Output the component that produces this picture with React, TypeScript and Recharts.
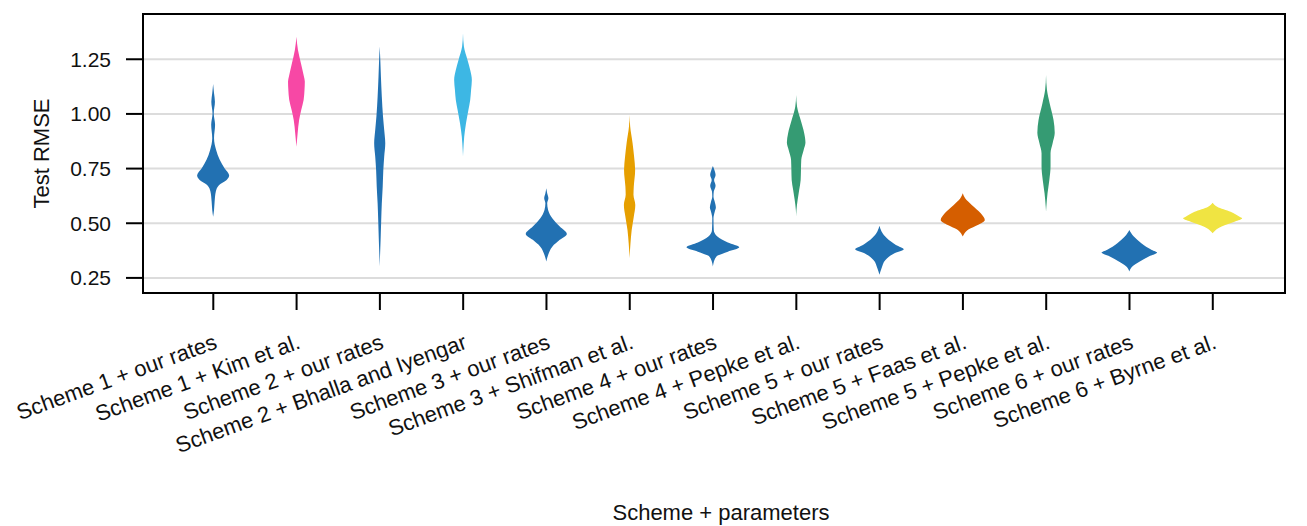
import { Bar, ComposedChart, CartesianGrid, Curve, Label, ReferenceArea, XAxis, YAxis } from "recharts";

// violin outlines: [Test RMSE, half width as share of one category slot]
const categories = [
  "Scheme 1 + our rates",
  "Scheme 1 + Kim et al.",
  "Scheme 2 + our rates",
  "Scheme 2 + Bhalla and Iyengar",
  "Scheme 3 + our rates",
  "Scheme 3 + Shifman et al.",
  "Scheme 4 + our rates",
  "Scheme 4 + Pepke et al.",
  "Scheme 5 + our rates",
  "Scheme 5 + Faas et al.",
  "Scheme 5 + Pepke et al.",
  "Scheme 6 + our rates",
  "Scheme 6 + Byrne et al.",
];

const s1Ours = [[1.137, 0], [1.094, 0.012], [1.056, 0.024], [1.003, 0.008], [0.95, 0.026], [0.889, 0.012], [0.835, 0.04], [0.79, 0.088], [0.751, 0.152], [0.718, 0.214], [0.698, 0.18], [0.675, 0.08], [0.645, 0.036], [0.599, 0.02], [0.561, 0.012], [0.53, 0]];
const s1Kim = [[1.353, 0], [1.293, 0.02], [1.232, 0.06], [1.171, 0.1], [1.148, 0.112], [1.11, 0.108], [1.064, 0.096], [1.018, 0.064], [0.972, 0.036], [0.911, 0.016], [0.85, 0]];
const s2Ours = [[1.308, 0], [1.247, 0.008], [1.171, 0.016], [1.079, 0.028], [0.988, 0.044], [0.927, 0.06], [0.866, 0.074], [0.805, 0.06], [0.744, 0.048], [0.668, 0.04], [0.591, 0.028], [0.515, 0.02], [0.424, 0.012], [0.348, 0.004], [0.302, 0]];
const s2Bhalla = [[1.369, 0], [1.308, 0.012], [1.247, 0.06], [1.201, 0.096], [1.155, 0.118], [1.11, 0.108], [1.064, 0.096], [1.018, 0.072], [0.957, 0.04], [0.896, 0.016], [0.835, 0.004], [0.805, 0]];
const s3Ours = [[0.66, 0], [0.637, 0.012], [0.614, 0.028], [0.591, 0.012], [0.561, 0.024], [0.523, 0.08], [0.485, 0.18], [0.451, 0.274], [0.424, 0.18], [0.393, 0.08], [0.355, 0.024], [0.325, 0]];
const s3Shifman = [[0.995, 0], [0.942, 0.008], [0.866, 0.04], [0.805, 0.06], [0.744, 0.074], [0.668, 0.056], [0.63, 0.052], [0.584, 0.076], [0.53, 0.056], [0.469, 0.028], [0.408, 0.012], [0.34, 0]];
const s4Ours = [[0.762, 0], [0.744, 0.02], [0.721, 0.036], [0.698, 0.016], [0.672, 0.036], [0.645, 0.012], [0.622, 0.008], [0.594, 0.028], [0.573, 0.04], [0.552, 0.024], [0.523, 0.008], [0.469, 0.012], [0.439, 0.06], [0.412, 0.2], [0.39, 0.352], [0.37, 0.2], [0.348, 0.048], [0.317, 0.008], [0.302, 0]];
const s4Pepke = [[1.087, 0], [1.033, 0.012], [0.972, 0.06], [0.911, 0.108], [0.869, 0.124], [0.835, 0.1], [0.79, 0.068], [0.744, 0.064], [0.698, 0.06], [0.652, 0.04], [0.607, 0.02], [0.561, 0.004], [0.53, 0]];
const s5Ours = [[0.488, 0], [0.462, 0.028], [0.431, 0.1], [0.401, 0.22], [0.381, 0.324], [0.363, 0.2], [0.332, 0.08], [0.294, 0.028], [0.264, 0]];
const s5Faas = [[0.637, 0], [0.614, 0.032], [0.584, 0.12], [0.546, 0.24], [0.515, 0.294], [0.492, 0.2], [0.472, 0.08], [0.454, 0.024], [0.439, 0]];
const s5Pepke = [[1.178, 0], [1.11, 0.012], [1.049, 0.048], [0.972, 0.1], [0.914, 0.116], [0.866, 0.088], [0.82, 0.06], [0.759, 0.06], [0.698, 0.044], [0.637, 0.02], [0.576, 0.004], [0.553, 0]];
const s6Ours = [[0.469, 0], [0.439, 0.06], [0.409, 0.16], [0.378, 0.3], [0.366, 0.37], [0.348, 0.26], [0.325, 0.14], [0.302, 0.04], [0.279, 0]];
const s6Byrne = [[0.594, 0], [0.576, 0.06], [0.553, 0.24], [0.53, 0.36], [0.523, 0.394], [0.508, 0.3], [0.485, 0.12], [0.466, 0.032], [0.454, 0]];

const profiles = [s1Ours, s1Kim, s2Ours, s2Bhalla, s3Ours, s3Shifman, s4Ours, s4Pepke, s5Ours, s5Faas, s5Pepke, s6Ours, s6Byrne];

const xTicks = categories.map((_, i) => i);
const xDomain = [-0.844, 12.867];
const yTicks = [0.25, 0.5, 0.75, 1.0, 1.25];
const yDomain = [0.181, 1.457];

const violinColors = ["#2271b2", "#f748a5", "#2271b2", "#3db7e4", "#2271b2", "#e69f00", "#2271b2", "#359b73", "#2271b2", "#d55e00", "#359b73", "#2271b2", "#f0e442"];

const data = categories.map((name, i) => {
  const vals = profiles[i].map((p) => p[0]);
  return { idx: i, name, range: [Math.min(...vals), Math.max(...vals)], profile: profiles[i] };
});

const FONT = "'Liberation Sans', Arial, sans-serif";
const SLOT = 83.3;

function Violin(props: any) {
  const { x, y, width, height, index } = props;
  const d = data[index];
  const [lo, hi] = d.range;
  const cx = x + width / 2;
  const toY = (v: number) => y + ((hi - v) / (hi - lo)) * height;
  const right = d.profile.map(([v, w]) => ({ x: cx + w * width, y: toY(v) }));
  const left = d.profile.map(([v, w]) => ({ x: cx - w * width, y: toY(v) }));
  return <Curve type="monotone" layout="vertical" points={right} baseLine={left} fill={violinColors[index]} stroke="none" />;
}

function XTick({ x, y, payload }: any) {
  const ax = x + 5;
  const ay = y + 38;
  return (
    <text x={ax} y={ay} transform={`rotate(-20, ${ax}, ${ay})`} textAnchor="end" fontSize={22} fontFamily={FONT} fill="#111">
      {categories[payload.value]}
    </text>
  );
}

export default function App() {
  return (
    <div style={{ position: "absolute", left: 0, top: 0, background: "#fff" }}>
      <ComposedChart width={1307} height={526} data={data} margin={{ top: 14, right: 22, bottom: 0, left: 0 }}>
        <CartesianGrid vertical={false} stroke="#dcdcdc" strokeWidth={2} />
        <XAxis
          dataKey="idx"
          type="number"
          domain={xDomain}
          allowDataOverflow
          ticks={xTicks}
          interval={0}
          height={233}
          tick={<XTick />}
          tickSize={17}
          tickMargin={0}
          axisLine={{ stroke: "#000", strokeWidth: 2 }}
          tickLine={{ stroke: "#000", strokeWidth: 2 }}
        >
          <Label
            content={({ viewBox }: any) => (
              <text x={viewBox.x + viewBox.width / 2 + 7} y={520} textAnchor="middle" fontSize={22} fontFamily={FONT} fill="#111">
                Scheme + parameters
              </text>
            )}
          />
        </XAxis>
        <YAxis
          type="number"
          domain={yDomain}
          allowDataOverflow
          ticks={yTicks}
          width={143}
          tickFormatter={(v: number) => v.toFixed(2)}
          tick={{ fontSize: 21, fontFamily: FONT, fill: "#111" }}
          tickSize={17}
          tickMargin={15}
          axisLine={{ stroke: "#000", strokeWidth: 2 }}
          tickLine={{ stroke: "#000", strokeWidth: 2 }}
        >
          <Label
            content={({ viewBox }: any) => {
              const lx = viewBox.x + 41.7;
              const ly = viewBox.y + viewBox.height / 2;
              return (
                <text x={lx} y={ly} transform={`rotate(-90, ${lx}, ${ly})`} textAnchor="middle" dy="0.35em" fontSize={22} fontFamily={FONT} fill="#111">
                  Test RMSE
                </text>
              );
            }}
          />
        </YAxis>
        <Bar dataKey="range" barSize={SLOT} shape={<Violin />} isAnimationActive={false} />
        <ReferenceArea x1={xDomain[0]} x2={xDomain[1]} y1={yDomain[0]} y2={yDomain[1]} fill="none" fillOpacity={0} stroke="#000" strokeWidth={2} />
      </ComposedChart>
    </div>
  );
}
